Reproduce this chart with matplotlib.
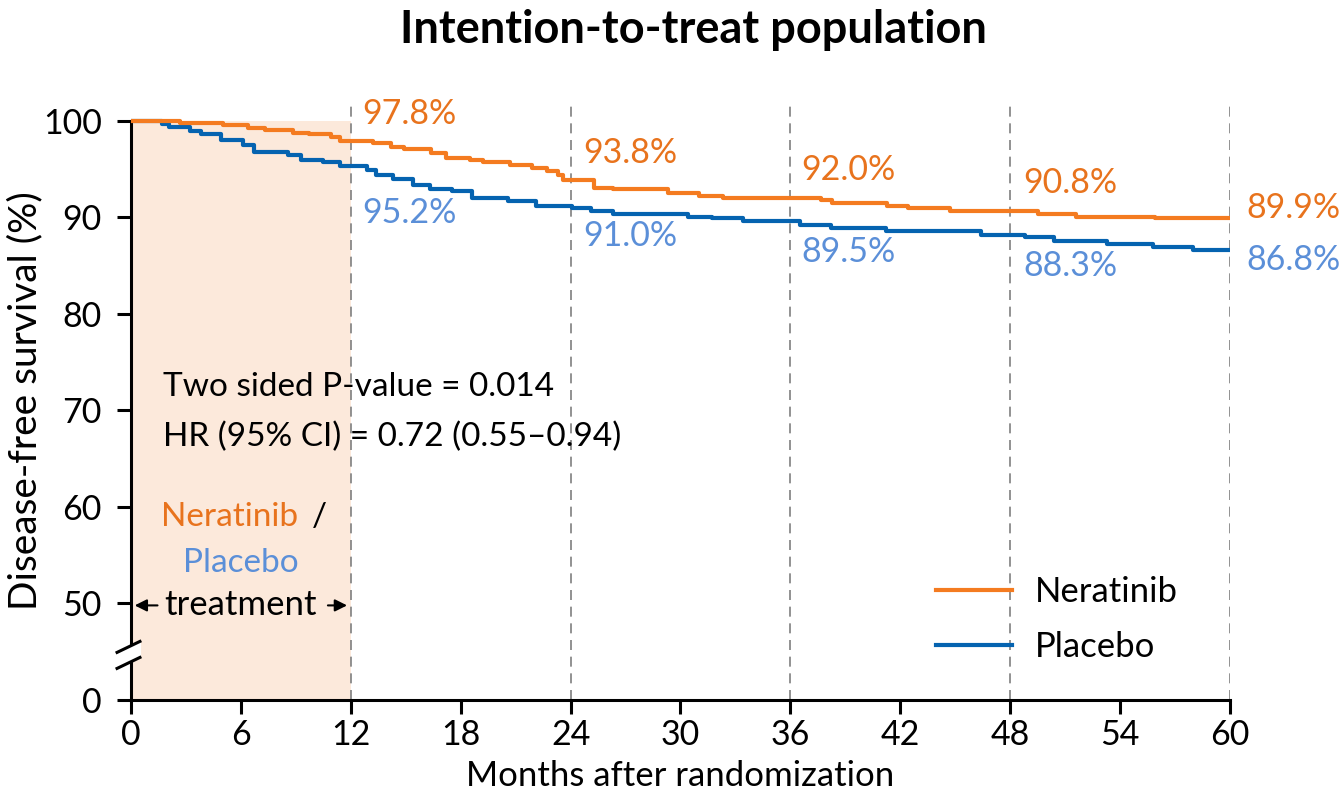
import matplotlib
matplotlib.use("Agg")
import matplotlib.pyplot as plt
from matplotlib.lines import Line2D

plt.rcParams['font.family'] = ['Lato', 'DejaVu Sans']

# Kaplan-Meier curves (months, % disease-free)
ner_t = [0, 2.7, 5.0, 6.4, 7.3, 8.85, 9.7, 10.9, 11.4, 13.2, 14.2, 14.9, 16.4, 17.2,
         18.5, 19.2, 20.7, 21.9, 22.7, 23.3, 23.6, 25.3, 26.3, 29.3, 31.0, 32.3, 37.7,
         38.3, 41.3, 42.4, 44.7, 49.5, 51.6, 55.9, 60]
ner_s = [100, 99.8, 99.6, 99.3, 99.1, 98.8, 98.6, 98.3, 97.9, 97.7, 97.3, 97.1, 96.7, 96.2,
         96.0, 95.7, 95.4, 95.1, 94.8, 94.4, 93.9, 93.1, 92.9, 92.5, 92.2, 92.0, 91.8,
         91.5, 91.2, 91.0, 90.7, 90.4, 90.1, 89.9, 89.9]

pla_t = [0, 1.7, 2.1, 3.2, 3.8, 4.9, 6.1, 6.7, 8.6, 9.3, 10.5, 11.4, 12.9, 13.4, 14.3,
         15.4, 16.3, 17.5, 18.6, 20.6, 22.1, 24.1, 25.1, 26.3, 30.4, 31.7, 33.4, 36.5,
         38.2, 41.2, 46.4, 48.8, 50.4, 53.3, 55.8, 58.0, 60]
pla_s = [100, 99.7, 99.4, 99.0, 98.6, 98.0, 97.5, 96.8, 96.5, 96.0, 95.7, 95.3, 94.9, 94.4,
         94.0, 93.4, 93.0, 92.7, 92.0, 91.7, 91.2, 91.0, 90.7, 90.4, 90.1, 89.9, 89.6, 89.2,
         88.9, 88.6, 88.2, 88.0, 87.6, 87.2, 86.9, 86.6, 86.6]

# yearly landmark values
marks = [12, 24, 36, 48, 60]
ner_lbl = ["97.8%", "93.8%", "92.0%", "90.8%", "89.9%"]
pla_lbl = ["95.2%", "91.0%", "89.5%", "88.3%", "86.8%"]
ner_lbl_y = [100.7, 96.7, 94.9, 93.6, 91.0]
pla_lbl_y = [90.5, 88.1, 86.4, 85.0, 85.6]
lbl_dx = [0.65, 0.7, 0.6, 0.7, 0.9]

xticks = list(range(0, 61, 6))
yticks = [40, 50, 60, 70, 80, 90, 100]
ylabels = ["0", "50", "60", "70", "80", "90", "100"]

c_ner = "#F47B20"
c_pla = "#0563B0"
c_ner_txt = "#E8731D"
c_pla_txt = "#5B8FD8"
c_shade = "#FCE9DB"

fig = plt.figure(figsize=(13.42, 7.93), dpi=100)
ax = fig.add_axes([0.0976, 0.1173, 0.8189, 0.7545])
ax.set_xlim(0, 60)
ax.set_ylim(40, 102)

# treatment period
ax.fill_between([0, 12], 40, 100, color=c_shade, lw=0, zorder=0)

for m in marks:
    ax.plot([m, m], [40, 101.8], color="#7f7f7f", lw=1.2, ls=(0, (6, 4)), zorder=1)

ax.step(pla_t, pla_s, where="post", color=c_pla, lw=3, zorder=3)
ax.step(ner_t, ner_s, where="post", color=c_ner, lw=3, zorder=4)

for m, dx, t, y in zip(marks, lbl_dx, ner_lbl, ner_lbl_y):
    ax.text(m + dx, y, t, color=c_ner_txt, fontsize=24.5, va="center", ha="left")
for m, dx, t, y in zip(marks, lbl_dx, pla_lbl, pla_lbl_y):
    ax.text(m + dx, y, t, color=c_pla_txt, fontsize=24.5, va="center", ha="left")

ax.text(1.75, 72.4, "Two sided P-value = 0.014", fontsize=24, va="center", zorder=5)
ax.text(1.75, 67.3, "HR (95% CI) = 0.72 (0.55\u20130.94)", fontsize=24, va="center", zorder=5)

ax.text(9.85, 59.0, "/", fontsize=24, va="center", ha="left")
ax.text(9.12, 59.0, "Neratinib", fontsize=24, va="center", ha="right", color=c_ner_txt)
ax.text(6.0, 54.2, "Placebo", fontsize=24, va="center", ha="center", color=c_pla_txt)
ax.text(6.0, 49.8, "treatment", fontsize=25, va="center", ha="center")
ax.annotate("", xy=(0.05, 49.8), xytext=(1.6, 49.8),
            arrowprops=dict(arrowstyle="-|>", color="black", lw=1.5, mutation_scale=18))
ax.annotate("", xy=(11.95, 49.8), xytext=(10.6, 49.8),
            arrowprops=dict(arrowstyle="-|>", color="black", lw=1.5, mutation_scale=18))

# axes styling
for s in ["top", "right"]:
    ax.spines[s].set_visible(False)
ax.spines["left"].set_linewidth(2.2)
ax.spines["bottom"].set_linewidth(2.2)
ax.spines["left"].set_bounds(40, 100)
ax.spines["bottom"].set_bounds(0, 60)
ax.set_xticks(xticks)
ax.set_yticks(yticks)
ax.set_yticklabels(ylabels)
ax.tick_params(axis="both", direction="out", length=10, width=2.2, labelsize=24.5)
ax.tick_params(axis="y", pad=11)
ax.tick_params(axis="x", pad=4)

# axis break on the y axis
ax.fill([-0.8, 0.55, 0.55, -0.8], [44.9, 46.1, 44.4, 43.2], color="white",
        lw=0, clip_on=False, zorder=6)
ax.plot([-0.76, 0.49], [44.93, 46.07], color="black", lw=2.2, clip_on=False, zorder=7)
ax.plot([-0.76, 0.49], [43.27, 44.41], color="black", lw=2.2, clip_on=False, zorder=7)

ax.set_xlabel("Months after randomization", fontsize=25, labelpad=6)
ax.set_ylabel("Disease-free survival (%)", fontsize=28, labelpad=0)

handles = [Line2D([], [], color=c_ner, lw=3), Line2D([], [], color=c_pla, lw=3)]
ax.legend(handles, ["Neratinib", "Placebo"], loc="upper left",
          bbox_to_anchor=(0.7325, 0.207), frameon=False, fontsize=25,
          handlelength=2.2, handletextpad=0.65, labelspacing=0.65, borderpad=0,
          borderaxespad=0)

fig.text(0.517, 0.962, "Intention-to-treat population", fontsize=32.5, fontweight="bold",
         ha="center", va="center")

fig.savefig("out.png", dpi=100)
